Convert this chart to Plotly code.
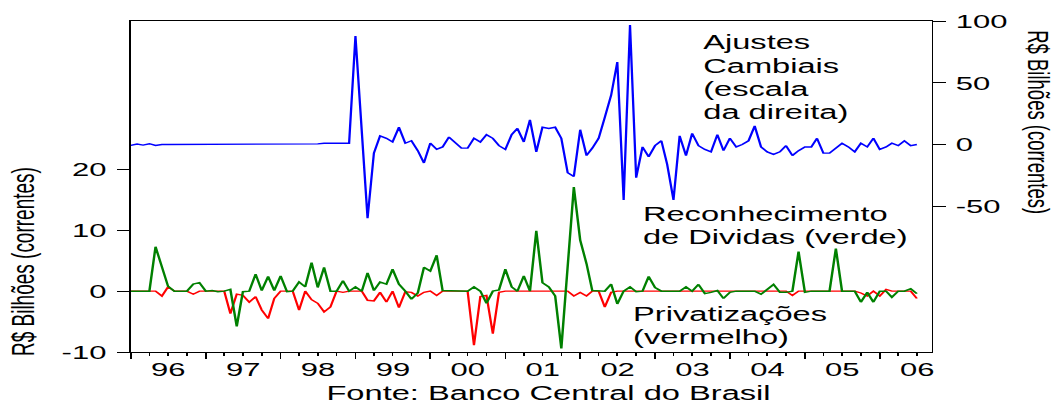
import plotly.graph_objects as go
import pandas as pd

# Monthly observations, Jan 1996 - Jul 2006 (R$ billions, current)
months = pd.date_range("1996-01-01", periods=127, freq="MS")

# Exchange-rate adjustments (right-hand scale)
ajustes_cambiais = [
    -0.8, 0.3, -0.5, 0.6, -0.8, 0, 0, 0, 0, 0,
    0, 0, 0, 0, 0, 0, 0, 0, 0, 0,
    0, 0, 0, 0, 0, 0, 0, 0, 0, 0,
    0.5, 1, 1, 1, 1, 1,
    88, 10, -60, -7, 7, 5, 2, 14, 1, 3,
    -5, -15, 1, -4, -2, 6, 2, -3, -3, 5,
    2, 8, 5, -1, -4, 8, 13, 2, 20, -6,
    14, 13, 14, 5, -23, -26, 12, -9, -3, 5,
    22, 40, 67, -45, 97, -27, -2, -10, -1, 3,
    -16, -45, 7, -9, 9, -1, -4, -6, 8, -5,
    5, -2, 0, 3, 15, -2, -6, -8, -6, -1,
    -9, -5, -2, -2, 5, -7, -7, -3, 1, -2,
    -6, 1, -2, 5, -4, -2, 1, -1, 3, -1,
    0,
]

# Debt recognition (left-hand scale)
reconhecimento_dividas = [
    0, 0, 0, 0, 7.3, 4.0, 0.8, 0, 0, 0,
    1.15, 1.4, 0, 0.1, -0.1, 0, 0.3, -5.8, -0.1, 0,
    2.8, 0.1, 2.4, 0.1, 2.5, -0.1, 0, 1.5, 0.7, 4.7,
    0.6, 3.9, 0, 0, 1.7, 0, 0.7, 0, 3.0, 0.1,
    1.5, 1.15, 3.6, 1.15, 0, -1.3, -0.3, 3.9, 3.3, 5.9,
    0.1, 0.1, 0.1, 0.1, 0, 0.7, 0, -2.0, 0, 0.2,
    3.6, 0.7, 0, 2.5, 0, 9.9, 1.4, 0.7, -0.8, -9.4,
    4.0, 17.1, 8.4, 4.5, 0.1, 0, 0, 1.15, -2.1, 0,
    0.7, -0.1, 0, 2.4, 0.6, 0, 0, 0, 0, 0.7,
    0, 1.1, -0.4, -0.2, 0.1, -1.2, -0.2, 0, 0, 0,
    0, -0.5, 0.2, 1.1, -0.2, -0.2, 0, 6.5, -0.2, 0,
    0, 0, 0, 7.0, 0, 0, 0, -1.8, -0.2, -1.8,
    0, 0, -1.0, 0, 0, 0.4, -0.4,
]

# Privatisations (left-hand scale)
privatizacoes = [
    0, 0, 0, 0, 0, -0.8, 0.7, 0, 0, 0,
    -0.5, 0, 0, 0, 0, 0, -3.7, -0.5, -0.7, -1.8,
    -0.9, -3.1, -4.5, -1.2, 0, 0, 0, -3.1, 0, -1.4,
    -2.0, -3.4, -2.6, 0, -0.2, 0, 0, 0, -1.5, -1.6,
    -0.2, -1.8, 0, -2.7, -0.1, -0.2, -0.8, -0.2, 0, -0.7,
    0, 0, 0, 0, 0, -8.9, -0.9, -0.7, -7.0, -0.2,
    0, 0, 0, 0, 0, 0, 0, 0, 0, 0,
    0, -0.8, -0.2, -0.8, 0, 0, -2.6, -0.2, 0, 0,
    0, 0, 0, 0, 0, 0, 0, 0, 0, 0,
    0, 0, 0, 0, 0, 0, 0, 0, 0, 0,
    0, 0, 0, 0, 0, 0, -0.7, 0, 0, 0,
    0, 0, 0, 0, 0, 0, 0, -0.3, -0.8, 0,
    -0.8, 0.3, 0, 0, 0, 0, -1.2,
]

left_ticks = [-10, 0, 10, 20]
left_labels = ["-10", "0", "10", "20"]
right_ticks = [-50, 0, 50, 100]
right_labels = ["-50", "0", "50", "100"]

# The page is laid out narrow and then widened horizontally
W, H = 646, 405
STRETCH = 1054 / W
ML, MR, MT, MB = 80, 75, 21, 53
PW, PH = W - ML - MR, H - MT - MB
FONT = "Liberation Sans, Arial, sans-serif"


def paper(xs, ys):
    """Screen position (in the widened page) -> paper coordinates."""
    return (xs / STRETCH - ML) / PW, 1 - (ys - MT) / PH


fig = go.Figure()
fig.add_trace(go.Scatter(x=months, y=privatizacoes, mode="lines",
                         line=dict(color="#ff0000", width=1.4), yaxis="y"))
fig.add_trace(go.Scatter(x=months, y=reconhecimento_dividas, mode="lines",
                         line=dict(color="#008000", width=1.5), yaxis="y"))
fig.add_trace(go.Scatter(x=months, y=ajustes_cambiais, mode="lines",
                         line=dict(color="#0000ff", width=1.4), yaxis="y2"))

axis_common = dict(showgrid=False, zeroline=False, showline=True,
                   linecolor="black", linewidth=1, tickcolor="black",
                   tickwidth=1, ticks="outside")

fig.update_layout(
    width=W, height=H,
    margin=dict(l=ML, r=MR, t=MT, b=MB, pad=0),
    paper_bgcolor="white", plot_bgcolor="white",
    showlegend=False,
    font=dict(family=FONT, size=19, color="black"),
    xaxis=dict(
        **axis_common,
        type="date",
        range=["1995-12-31", "2006-09-11"],
        tick0="1996-01-01", dtick="M12", tickformat="%y",
        ticklabelmode="period", ticklen=6, mirror=True,
        ticklabelstandoff=-6,
        minor=dict(dtick="M3", tick0="1996-01-01", ticks="outside",
                   ticklen=3, tickcolor="black", tickwidth=1, showgrid=False),
    ),
    yaxis=dict(
        **axis_common,
        range=[-10, 44.4], tickvals=left_ticks, ticktext=left_labels,
        ticklen=7, ticklabelstandoff=3,
    ),
    yaxis2=dict(
        **axis_common,
        overlaying="y", side="right",
        range=[-168.6, 100.3], tickvals=right_ticks, ticktext=right_labels,
        ticklen=8, ticklabelstandoff=2,
    ),
)

# Series captions and source line
captions = [
    ("Ajustes", 700, 42),
    ("Cambiais", 700, 65.5),
    ("(escala", 700, 89),
    ("da direita)", 700, 112.5),
    ("Reconhecimento", 639, 214),
    ("de Dividas (verde)", 639, 237),
    ("Privatizações", 630, 314),
    ("(vermelho)", 630, 337),
]
for text, xs, ys in captions:
    px, py = paper(xs, ys)
    fig.add_annotation(text=text, xref="paper", yref="paper", x=px, y=py,
                       xanchor="left", yanchor="middle", showarrow=False,
                       font=dict(family=FONT, size=20, color="black"))

px, py = paper(547.5, 393)
fig.add_annotation(text="Fonte: Banco Central do Brasil", xref="paper",
                   yref="paper", x=px, y=py, xanchor="center",
                   yanchor="middle", showarrow=False,
                   font=dict(family=FONT, size=20, color="black"))

# Axis titles
px, py = paper(23, 262)
fig.add_annotation(text="R$ Bilhões (correntes)", xref="paper", yref="paper",
                   x=px, y=py, xanchor="center", yanchor="middle",
                   textangle=-90, showarrow=False,
                   font=dict(family=FONT, size=19, color="black"))
px, py = paper(1039, 122)
fig.add_annotation(text="R$ Bilhões (correntes)", xref="paper", yref="paper",
                   x=px, y=py, xanchor="center", yanchor="middle",
                   textangle=90, showarrow=False,
                   font=dict(family=FONT, size=18.5, color="black"))

widen = (
    "document.body.style.margin='0';"
    "var gd=document.getElementById('{plot_id}');"
    "gd.style.transformOrigin='0 0';"
    "gd.style.transform='scaleX(%.5f)';" % STRETCH
)
fig.write_html("out.html", post_script=widen)
